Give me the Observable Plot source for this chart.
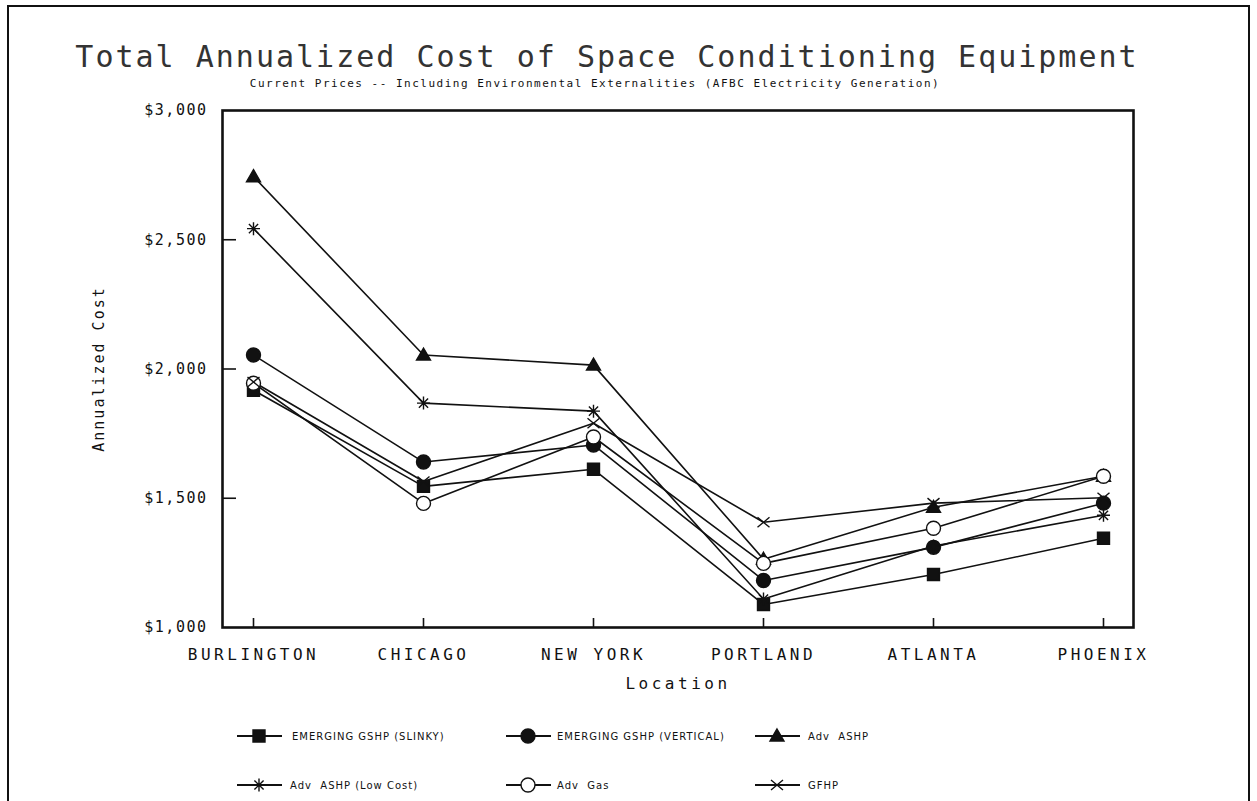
<!DOCTYPE html>
<html><head><meta charset="utf-8">
<script src="https://cdn.jsdelivr.net/npm/d3@7"></script>
<script src="https://cdn.jsdelivr.net/npm/@observablehq/plot@0.6"></script>
<style>
body{margin:0;background:#fff;width:1257px;height:801px;overflow:hidden;position:relative;font-family:"DejaVu Sans Mono",monospace;color:#111}
#border{position:absolute;left:7px;top:5px;width:1243px;height:820px;border:2px solid #111;border-bottom:none;box-sizing:border-box}
#title{position:absolute;left:0;top:42px;width:1214px;text-align:center;font-size:30px;line-height:30px;letter-spacing:2px;white-space:pre;color:#333}
#subtitle{position:absolute;left:0;top:78px;width:1190px;text-align:center;font-size:11px;line-height:11px;letter-spacing:1.5px;white-space:pre}
#chart{position:absolute;left:0;top:95px}
#legend{position:absolute;left:0;top:700px}
[aria-label="x-axis tick label"] text{letter-spacing:3.5px}
[aria-label="y-axis tick label"] text{letter-spacing:1.5px}
[aria-label="x-axis label"] text{letter-spacing:3.5px}
[aria-label="y-axis label"] text{letter-spacing:2px}
#legend text{letter-spacing:1px;white-space:pre}
</style>
</head><body>
<div id="border"></div>
<div id="title">Total Annualized Cost of Space Conditioning Equipment</div>
<div id="subtitle">Current Prices -- Including Environmental Externalities (AFBC Electricity Generation)</div>
<div id="chart"></div>
<div id="legend"></div>
<script>
const locations = ["BURLINGTON","CHICAGO","NEW YORK","PORTLAND","ATLANTA","PHOENIX"];
const seriesNames = ["EMERGING GSHP (SLINKY)","EMERGING GSHP (VERTICAL)","Adv  ASHP","Adv  ASHP (Low Cost)","Adv  Gas","GFHP"];
const slinky     = [1918,1546,1612,1089,1205,1345];
const vertical   = [2054,1640,1706,1182,1310,1481];
const advAshp    = [2744,2054,2015,1264,1465,1585];
const advAshpLow = [2543,1868,1837,1110,1315,1434];
const advGas     = [1945,1480,1737,1248,1384,1585];
const gfhp       = [1950,1565,1790,1407,1481,1502];
const yTicks = [1000,1500,2000,2500,3000];
const yInnerTicks = [1500,2000,2500];

const seriesValues = [slinky, vertical, advAshp, advAshpLow, advGas, gfhp];

// symbol shapes
const symSquare = {draw(c){c.rect(-6,-6,12,12);}};
const symCircle = {draw(c){c.moveTo(7,0);c.arc(0,0,7,0,2*Math.PI);c.closePath();}};
const symTriangle = {draw(c){c.moveTo(0,-7);c.lineTo(7,5);c.lineTo(-7,5);c.closePath();}};
const symAsterisk = {draw(c){const r=6.5;for(const a of [0,45,90,135]){const t=a*Math.PI/180;c.moveTo(Math.cos(t)*r,Math.sin(t)*r);c.lineTo(-Math.cos(t)*r,-Math.sin(t)*r);}}};
const symTimes = {draw(c){c.moveTo(-6,-5);c.lineTo(6,5);c.moveTo(6,-5);c.lineTo(-6,5);}};
const styles = [
  {symbol: symSquare, fill: "#111"},
  {symbol: symCircle, fill: "#111"},
  {symbol: symTriangle, fill: "#111"},
  {symbol: symAsterisk, fill: "none"},
  {symbol: symCircle, fill: "#fff"},
  {symbol: symTimes, fill: "none"}
];

const rows = seriesNames.flatMap((name, si) => locations.map((loc, i) => ({series: name, location: loc, value: seriesValues[si][i]})));

const W = 1257, H = 605, mT = 15, mB = 73, mL = 222, mR = 124;
const frameW = W - mL - mR, frameH = H - mT - mB;

const marks = [
  Plot.tickY(yInnerTicks, {y: d => d, insetRight: frameW - 14, stroke: "#111", strokeWidth: 1.6}),
  Plot.tickX(locations, {x: d => d, insetTop: frameH - 9, stroke: "#111", strokeWidth: 1.6}),
  Plot.line(rows, {x: "location", y: "value", z: "series", stroke: "#111", strokeWidth: 1.6}),
  ...seriesNames.map((name, si) => Plot.dot(rows.filter(d => d.series === name), {
    x: "location", y: "value", r: 7, symbol: styles[si].symbol, fill: styles[si].fill, stroke: "#111", strokeWidth: 1.4
  })),
  Plot.axisY({ticks: yTicks, tickFormat: d3.format("$,"), tickSize: 0, tickPadding: 15, fontSize: 15,
    label: "Annualized Cost", labelAnchor: "center", labelOffset: 129, labelArrow: false}),
  Plot.axisX({tickSize: 0, tickPadding: 21, fontSize: 16, label: "Location", labelAnchor: "center", labelOffset: 61, labelArrow: false}),
  Plot.frame({stroke: "#111", strokeWidth: 2.6})
];

const chart = Plot.plot({
  width: W, height: H,
  marginTop: mT, marginBottom: mB, marginLeft: mL, marginRight: mR,
  style: {fontFamily: "'DejaVu Sans Mono', monospace", color: "#111", background: "transparent", fontSize: "15px"},
  x: {type: "point", domain: locations, padding: 0.164},
  y: {domain: [1000, 3000]},
  marks
});
document.getElementById("chart").append(chart);

// legend
const legendPos = [
  {lx: 237, sx: 259, tx: 292, y: 36},
  {lx: 506, sx: 528, tx: 557, y: 36},
  {lx: 755, sx: 777, tx: 808, y: 36},
  {lx: 237, sx: 259, tx: 290, y: 85},
  {lx: 506, sx: 528, tx: 557, y: 85},
  {lx: 755, sx: 777, tx: 808, y: 85}
];
const svg = d3.create("svg").attr("width", 1257).attr("height", 101);
seriesNames.forEach((name, i) => {
  const p = legendPos[i];
  const g = svg.append("g");
  g.append("line").attr("x1", p.lx).attr("x2", p.lx + 45).attr("y1", p.y).attr("y2", p.y).attr("stroke", "#111").attr("stroke-width", 1.8);
  g.append("path").attr("d", d3.symbol(styles[i].symbol)()).attr("transform", `translate(${p.sx},${p.y})`)
    .attr("fill", styles[i].fill).attr("stroke", "#111").attr("stroke-width", 1.4);
  g.append("text").attr("x", p.tx).attr("y", p.y).attr("dy", "0.35em").attr("font-family", "'DejaVu Sans', sans-serif")
    .attr("font-size", 10).attr("fill", "#111").attr("xml:space", "preserve").text(name);
});
document.getElementById("legend").append(svg.node());
</script>
</body></html>
